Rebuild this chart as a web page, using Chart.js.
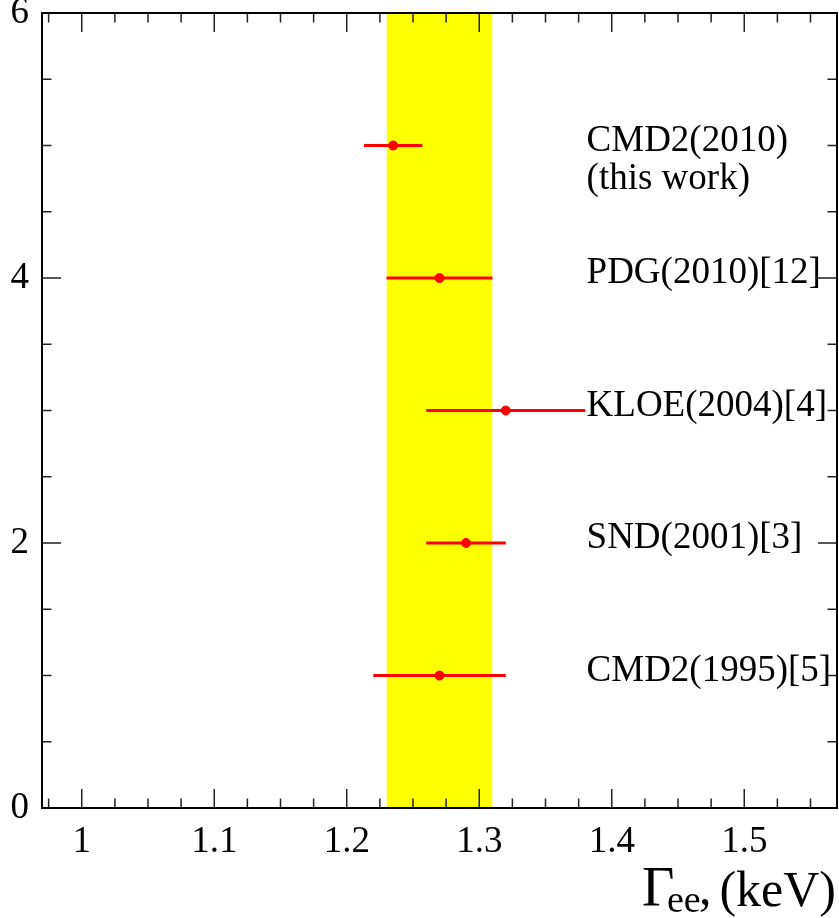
<!DOCTYPE html>
<html>
<head>
<meta charset="utf-8">
<title>Gamma ee comparison</title>
<script src="https://cdn.jsdelivr.net/npm/chart.js@4.4.0/dist/chart.umd.min.js"></script>
<style>
    body { margin: 0; background: #fff; }
    #wrap { width: 839px; height: 918px; }
</style>
</head>
<body>
<div id="wrap"><canvas id="myChart" width="839" height="918"></canvas></div>
<script>

// measurements, top to bottom
var names = [['CMD2(2010)', '(this work)'], ['PDG(2010)[12]'], ['KLOE(2004)[4]'], ['SND(2001)[3]'], ['CMD2(1995)[5]']];
var rows = [5, 4, 3, 2, 1];
var values = [1.235, 1.27, 1.32, 1.29, 1.27];
var errLow = [0.022, 0.04, 0.06, 0.03, 0.05];
var errHigh = [0.022, 0.04, 0.06, 0.03, 0.05];

// yellow band (average)
var band = [1.23, 1.31];

var xTicks = [1, 1.1, 1.2, 1.3, 1.4, 1.5];
var yTicks = [0, 2, 4, 6];

var serif = '"Liberation Serif", "DejaVu Serif", serif';
var labelX = 1.381;

var datasets = [];
datasets.push({
    type: 'scatter',
    data: values.map((v, i) => ({x: v, y: rows[i]})),
    backgroundColor: '#ff0000',
    borderColor: '#ff0000',
    pointRadius: 4.5,
    pointHoverRadius: 4.5,
    order: 1
});
for (let i = 0; i < values.length; i++) {
    datasets.push({
        type: 'line',
        data: [{x: values[i] - errLow[i], y: rows[i]}, {x: values[i] + errHigh[i], y: rows[i]}],
        borderColor: '#ff0000',
        borderWidth: 3,
        pointRadius: 0,
        fill: false,
        order: 2
    });
}
datasets.push({
    type: 'line',
    data: [{x: band[0], y: 6}, {x: band[1], y: 6}],
    borderWidth: 0,
    pointRadius: 0,
    fill: 'start',
    backgroundColor: '#ffff00',
    order: 3
});

// frame with inward ticks on all four sides, labels, axis title
var framePlugin = {
    id: 'frame',
    afterDatasetsDraw(chart) {
        const ctx = chart.ctx;
        const a = chart.chartArea;
        const xs = chart.scales.x, ys = chart.scales.y;
        ctx.save();
        ctx.strokeStyle = '#222';
        ctx.lineWidth = 1.5;
        ctx.beginPath();
        for (let k = 0; k <= 24; k++) {
            let v = 0.975 + k * 0.025;
            if (v > 1.57) break;
            let major = Math.abs(v * 10 - Math.round(v * 10)) < 1e-6;
            let len = major ? 19 : 9.5;
            let px = xs.getPixelForValue(v);
            ctx.moveTo(px, a.bottom); ctx.lineTo(px, a.bottom - len);
            ctx.moveTo(px, a.top); ctx.lineTo(px, a.top + len);
        }
        for (let k = 1; k < 12; k++) {
            let v = k * 0.5;
            let len = (v % 2 === 0) ? 19 : 9.5;
            let py = ys.getPixelForValue(v);
            ctx.moveTo(a.left, py); ctx.lineTo(a.left + len, py);
            ctx.moveTo(a.right, py); ctx.lineTo(a.right - len, py);
        }
        ctx.stroke();
        ctx.lineWidth = 2;
        ctx.strokeStyle = '#000';
        ctx.strokeRect(a.left, a.top, a.right - a.left, a.bottom - a.top);

        // experiment names
        ctx.fillStyle = '#000';
        ctx.font = '37px ' + serif;
        ctx.textAlign = 'left';
        ctx.textBaseline = 'alphabetic';
        let lx = xs.getPixelForValue(labelX);
        for (let i = 0; i < names.length; i++) {
            let py = ys.getPixelForValue(rows[i]) + 5;
            names[i].forEach((t, j) => ctx.fillText(t, lx, py + j * 38));
        }

        // axis title: Gamma_ee, (keV)  (ROOT-like placement)
        ctx.font = '56px ' + serif;
        ctx.fillText('\u0393', 642, 906);
        ctx.font = '38px ' + serif;
        ctx.fillText('ee', 667, 912);
        ctx.font = '50px ' + serif;
        ctx.fillText(',', 699, 904);
        ctx.textAlign = 'right';
        ctx.fillText('(keV)', 836, 906);
        ctx.restore();
    }
};

var config = {
    type: 'scatter',
    data: {datasets: datasets},
    options: {
        responsive: false,
        devicePixelRatio: 1,
        animation: false,
        layout: {autoPadding: false, padding: {top: 13, right: 2, left: 0, bottom: 0}},
        plugins: {legend: {display: false}, tooltip: {enabled: false}},
        scales: {
            x: {
                type: 'linear',
                min: 0.97,
                max: 1.57,
                grid: {display: false, drawTicks: false},
                border: {display: false},
                afterBuildTicks: s => { s.ticks = xTicks.map(v => ({value: v})); },
                afterFit: s => { s.height = 110; s.paddingLeft = 0; s.paddingRight = 0; },
                ticks: {
                    padding: 12,
                    color: '#000',
                    font: {family: serif, size: 37},
                    maxRotation: 0,
                    callback: v => String(Math.round(v * 10) / 10)
                }
            },
            y: {
                type: 'linear',
                min: 0,
                max: 6,
                grid: {display: false, drawTicks: false},
                border: {display: false},
                afterBuildTicks: s => { s.ticks = yTicks.map(v => ({value: v})); },
                afterFit: s => { s.width = 42; s.paddingTop = 0; s.paddingBottom = 0; },
                ticks: {
                    padding: 13,
                    color: '#000',
                    font: {family: serif, size: 37},
                    callback: v => String(v)
                }
            }
        }
    },
    plugins: [framePlugin]
};

var myChart = new Chart(document.getElementById('myChart').getContext('2d'), config);

</script>
</body>
</html>
